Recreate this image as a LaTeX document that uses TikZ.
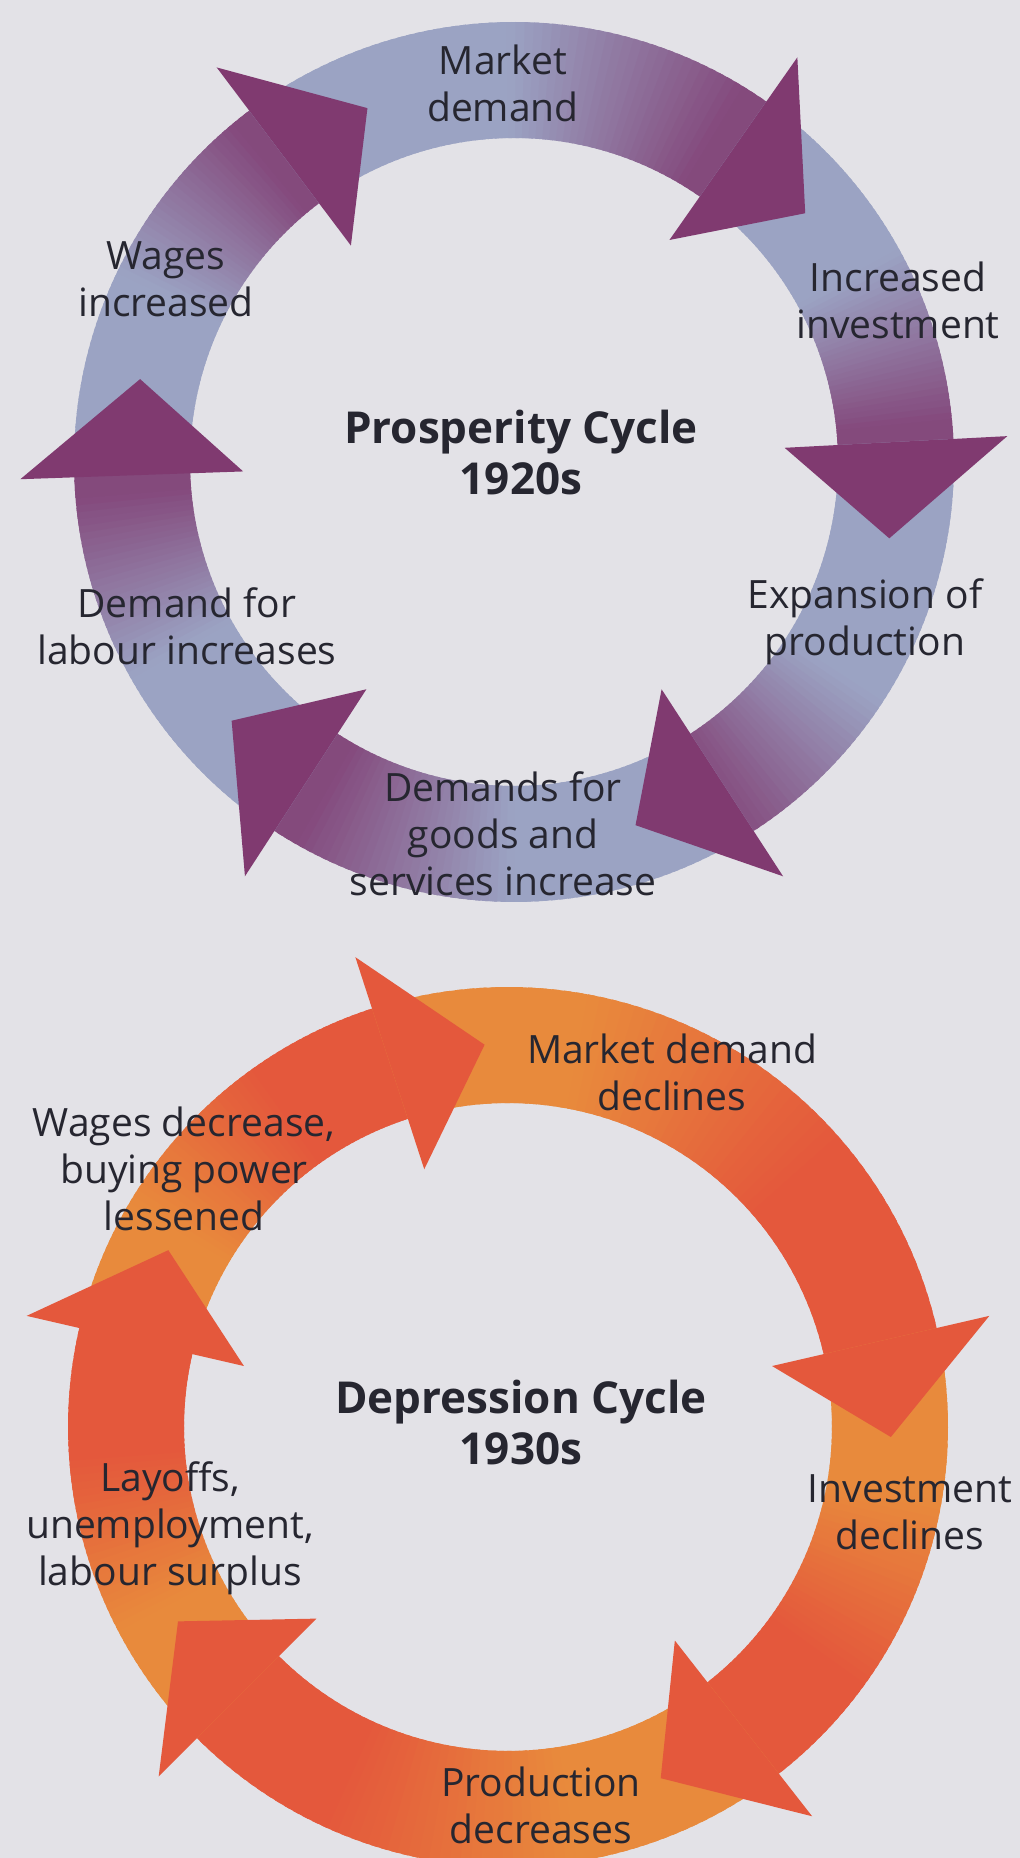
\documentclass[tikz,border=0pt]{standalone}
\usepackage{fontspec}
\setmainfont{Open Sans}
\definecolor{paper}{RGB}{227,226,231}
\definecolor{slate}{RGB}{155,163,195}
\definecolor{plum}{RGB}{128,58,112}
\definecolor{amber}{RGB}{232,138,60}
\definecolor{brick}{RGB}{228,88,60}
\definecolor{ink}{RGB}{38,38,48}
\tikzset{
    lbl/.style={align=center,text=ink,inner sep=0pt,font=\fontsize{19.5}{23.5}\selectfont},
    ttl/.style={lbl,font=\fontsize{22}{25.5}\selectfont\bfseries}
}
\begin{document}
\begin{tikzpicture}[x=.5pt,y=.5pt]
            \def\rin{324} \def\rout{440}
            \def\rbi{271} \def\rbo{494} \def\rtip{383} \def\hd{14.5}
            % ring piece from #1 to #2 (clockwise), colour #3 fading to #4 from #5 over #6
            \def\band(#1,#2,#3,#4,#5,#6){
                \foreach \k in {0,...,59}{
                    \pgfmathsetmacro\angA{#1+(#2-#1)*\k/60}
                    \pgfmathsetmacro\angB{#1+(#2-#1)*(\k+1.6)/60}
                    \pgfmathtruncatemacro\pc{100*min(1,max(0,((\k+.5)/60-#5)/#6))}
                    \fill[#4!\pc!#3] (\angA:\rin) -- (\angA:\rout) -- (\angB:\rout) -- (\angB:\rin) -- cycle;
                }}
            \def\head(#1,#2){\fill[#2] (#1:\rbi) -- (#1:\rbo) -- (#1-\hd:\rtip) -- cycle;}
            \useasboundingbox (0,0) rectangle (1020,1858);
            \fill[paper] (0,0) rectangle (1020,1858);
            \clip (0,0) rectangle (1020,1858);
            %===========================================
            \begin{scope}[shift={(514,1396)}]
                \band(182,127,slate,plum!85!slate,.5,.45)
                \band(127,55,slate,plum!85!slate,.5,.45)
                \band(55,3,slate,plum!85!slate,.5,.45)
                \band(3,-57,slate,plum!80!slate,.6,.4)
                \band(-57,-123,slate,plum!85!slate,.5,.45)
                \band(-123,-178,slate,plum!85!slate,.5,.45)
                \foreach \a in {127,55,3,-57,-123,-178} {\head(\a,plum)}
            \end{scope}
            \node[lbl] (mkt) at (503,1775) {Market\\demand};
            \node[lbl] (inv) at (898,1558) {Increased\\investment};
            \node[lbl] (exp) at (865,1236) {Expansion of\\production};
            \node[lbl] (gds) at (503,1024) {Demands for\\goods and\\services increase};
            \node[lbl] (lab) at (187,1232) {Demand for\\labour increases};
            \node[lbl] (wag) at (166,1579) {Wages\\increased};
            \node[ttl] (pros) at (521,1405) {Prosperity Cycle\\1920s};
            %===========================================
            \begin{scope}[shift={(508,431)}]
                \band(167,108,amber,brick,.3,.4)
                \band(108,13,amber,brick,.3,.4)
                \band(13,-52,amber,brick,.35,.4)
                \band(-52,-135,amber,brick,.35,.4)
                \band(-135,-193,amber,brick,.3,.4)
                \foreach \a in {108,13,-52,-135,-193} {\head(\a,brick)}
            \end{scope}
            \node[lbl] (mktd) at (672,786) {Market demand\\declines};
            \node[lbl] (invd) at (910,346) {Investment\\declines};
            \node[lbl] (prod) at (541,53) {Production\\decreases};
            \node[lbl] (lay) at (170,330) {Layoffs,\\unemployment,\\labour surplus};
            \node[lbl] (wagd) at (184,689) {Wages decrease,\\buying power\\lessened};
            \node[ttl] (dep) at (521,435) {Depression Cycle\\1930s};
\end{tikzpicture}
\end{document}
